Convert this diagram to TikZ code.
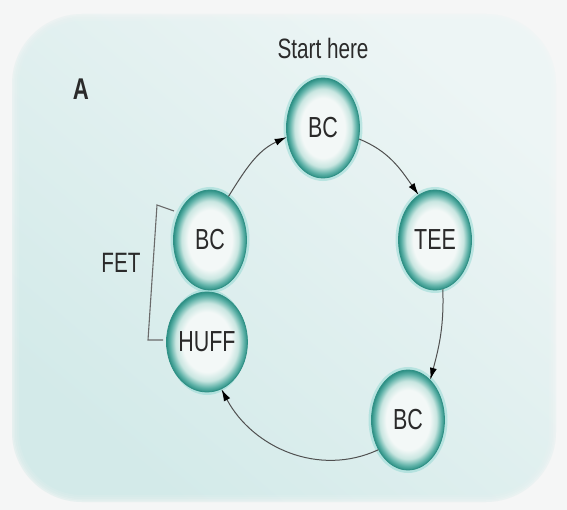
\documentclass[tikz,border=0pt]{standalone}
\usepackage{fontspec}
\setmainfont[FakeStretch=0.74]{Liberation Sans}
\usetikzlibrary{shapes.geometric,arrows.meta}

\definecolor{pagebg}{HTML}{F5F6F6}
\definecolor{panelA}{HTML}{D3EAE9}
\definecolor{panelB}{HTML}{EDF5F5}
\definecolor{cellin}{HTML}{F3F8F7}
\definecolor{cellmid}{HTML}{C9E6E1}
\definecolor{cellout}{HTML}{5BB0A6}
\definecolor{celledge}{HTML}{2E9085}
\definecolor{cellhalo}{HTML}{8FD8D2}
\definecolor{inkgray}{HTML}{2A2A2A}
\definecolor{linegray}{HTML}{505050}

% teal ring fading to a pale centre
\pgfdeclareradialshading{cellring}{\pgfpoint{0bp}{0bp}}{%
  color(0bp)=(cellin); color(15bp)=(cellin); color(19.5bp)=(cellmid);
  color(23bp)=(cellout); color(25bp)=(celledge); color(50bp)=(celledge)}

\tikzset{
  cell/.style={ellipse, minimum width=73pt, minimum height=100pt, inner sep=0pt,
    shading=cellring, draw=celledge, line width=0.8pt,
    font=\fontsize{29}{30}\selectfont, text=inkgray},
  halo/.style={draw=cellhalo, line width=3pt, opacity=0.5},
  label/.style={font=\fontsize{28}{30}\selectfont, text=inkgray, inner sep=0pt},
  flow/.style={draw=linegray, line width=1pt,
    -{Latex[length=12pt,width=7pt,fill=black,color=black]}},
  bracket/.style={draw=linegray!85, line width=1.1pt, line join=miter}
}

\begin{document}
\begin{tikzpicture}[x=1pt, y=-1pt]
\useasboundingbox (0,0) rectangle (567,510);
\fill[pagebg] (0,0) rectangle (567,510);

% panel with a soft rim
\shade[top color=panelB, bottom color=panelA, shading angle=-40, rounded corners=70pt]
  (12,14) rectangle (556,502);
\foreach \w/\o in {14/0.12, 10/0.15, 6/0.2, 3/0.3} {
  \draw[pagebg, line width=\w pt, opacity=\o, rounded corners=70pt] (12,14) rectangle (556,502);
}

% halos round the cells
\foreach \x/\y in {323/128, 435/240, 408/420, 210/240, 207/342} {
  \draw[halo] (\x,\y) ellipse (38pt and 51.5pt);
}

% cells
\node[cell] (tbc)  at (323,128) {BC};
\node[cell] (tee)  at (435,240) {TEE};
\node[cell] (bbc)  at (408,420) {BC};
\node[cell] (lbc)  at (210,240) {BC};
\node[cell] (huff) at (207,342) {HUFF};

% cycle
\draw[flow] (lbc.67)  to[out=58, in=205]  (tbc.194);
\draw[flow] (tbc.-17) to[out=-22, in=125] (tee.110);
\draw[flow] (tee.-81) to[out=-88, in=75]  (bbc.61);
\draw[flow] (bbc.225) to[out=205, in=-62] (huff.-73);

% labels
\node[label] (start) at (323,48) {Start here};
\node[label, font=\fontsize{30}{30}\selectfont\bfseries] (panel) at (81,89) {A};
\node[label] (fet) at (121,263) {FET};

% bracket joining BC and HUFF
\coordinate (bt) at (174,211);
\coordinate (bc1) at (157,205);
\coordinate (bc2) at (148,340);
\coordinate (bb) at (163,340);
\draw[bracket] (bt) -- (bc1) -- (bc2) -- (bb);
\end{tikzpicture}
\end{document}
